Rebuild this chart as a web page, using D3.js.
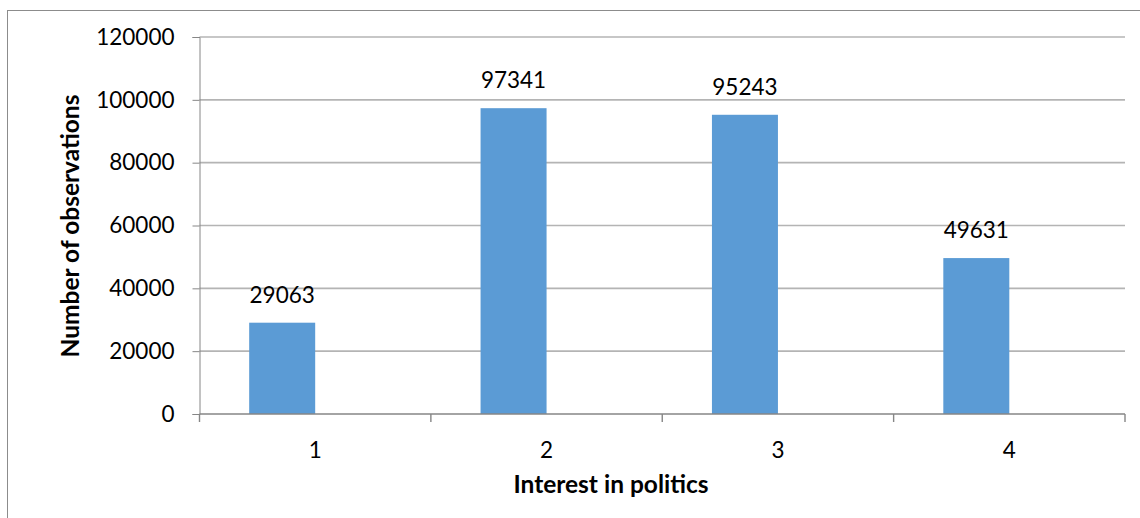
<!DOCTYPE html>
<html>
<head>
<meta charset="utf-8">
<script src="https://cdn.jsdelivr.net/npm/d3@7"></script>
<style>
  html, body { margin: 0; padding: 0; background: #fff; }
  svg { display: block; font-family: Lato, "Open Sans", sans-serif; }
</style>
</head>
<body>
<svg id="chart" width="1140" height="518"></svg>
<script>
// Counts of respondents by interest-in-politics level
const categories = ["1", "2", "3", "4"];
const counts = [29063, 97341, 95243, 49631];
const yTicks = [0, 20000, 40000, 60000, 80000, 100000, 120000];

const svg = d3.select("#chart");
const W = 1140, H = 518;
const plot = { left: 199.5, right: 1125, top: 37, bottom: 414 };

// outer frame
svg.append("rect")
  .attr("x", 7.5).attr("y", 10.5)
  .attr("width", W + 20).attr("height", H + 20)
  .attr("fill", "none").attr("stroke", "#8c8c8c").attr("stroke-width", 1);

const x = d3.scaleBand().domain(categories).range([plot.left, plot.right]);
const y = d3.scaleLinear().domain([0, 120000]).range([plot.bottom, plot.top]);

// horizontal gridlines
svg.append("g").selectAll("line")
  .data(yTicks.filter(t => t > 0))
  .join("line")
  .attr("x1", plot.left).attr("x2", plot.right)
  .attr("y1", d => y(d)).attr("y2", d => y(d))
  .attr("stroke", "#b4b4b4").attr("stroke-width", 1.6);

// y axis
const yAxis = svg.append("g")
  .attr("transform", `translate(${plot.left},0)`)
  .call(d3.axisLeft(y).tickValues(yTicks).tickSize(7).tickPadding(18).tickFormat(d3.format("d")));
yAxis.select(".domain").attr("stroke", "#868686");
yAxis.selectAll(".tick line").attr("stroke", "#868686");
yAxis.selectAll("text").attr("font-size", 22.5).attr("fill", "#000")
  .attr("font-family", "Lato, sans-serif");

// bars sit in the left half of each category band
const barW = 66;
svg.append("g").selectAll("rect")
  .data(counts)
  .join("rect")
  .attr("x", (d, i) => x(categories[i]) + x.bandwidth() / 2 - barW)
  .attr("width", barW)
  .attr("y", d => y(d))
  .attr("height", d => y(0) - y(d))
  .attr("fill", "#5b9bd5");

// value labels
svg.append("g").selectAll("text")
  .data(counts)
  .join("text")
  .attr("x", (d, i) => x(categories[i]) + x.bandwidth() / 2 - barW / 2)
  .attr("y", d => y(d) - 20)
  .attr("text-anchor", "middle")
  .attr("font-size", 22.5)
  .attr("fill", "#000")
  .text(d => d);

// x axis with ticks at band boundaries
const xAxisG = svg.append("g");
xAxisG.append("line")
  .attr("x1", plot.left).attr("x2", plot.right)
  .attr("y1", plot.bottom).attr("y2", plot.bottom)
  .attr("stroke", "#868686").attr("stroke-width", 1.6);
const bounds = categories.map(c => x(c)).concat([plot.right]);
xAxisG.selectAll("line.tk")
  .data(bounds)
  .join("line")
  .attr("class", "tk")
  .attr("x1", d => d).attr("x2", d => d)
  .attr("y1", plot.bottom).attr("y2", plot.bottom + 8)
  .attr("stroke", "#868686").attr("stroke-width", 1.4);
xAxisG.selectAll("text")
  .data(categories)
  .join("text")
  .attr("x", d => x(d) + x.bandwidth() / 2)
  .attr("y", 458)
  .attr("text-anchor", "middle")
  .attr("font-size", 22.5)
  .attr("fill", "#000")
  .text(d => d);

// axis titles
svg.append("text")
  .attr("x", 611).attr("y", 493)
  .attr("text-anchor", "middle")
  .attr("font-size", 24.5).attr("font-weight", "bold")
  .text("Interest in politics");

svg.append("text")
  .attr("transform", "translate(79,226) rotate(-90)")
  .attr("text-anchor", "middle")
  .attr("font-size", 24.5).attr("font-weight", "bold")
  .text("Number of observations");
</script>
</body>
</html>
